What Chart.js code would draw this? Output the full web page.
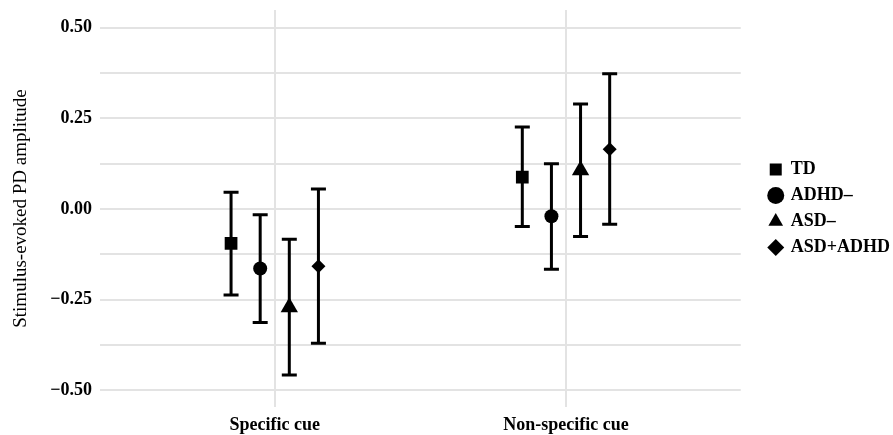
<!DOCTYPE html>
<html>
<head>
<meta charset="utf-8">
<script src="https://cdn.jsdelivr.net/npm/chart.js@4"></script>
<style>
  html, body { margin: 0; padding: 0; background: #fff; }
  #wrap { width: 893px; height: 435px; position: relative; }
</style>
</head>
<body>
<div id="wrap"><canvas id="chart"></canvas></div>
<script>
const categories = ['Specific cue', 'Non-specific cue']
const groups = ['TD', 'ADHD–', 'ASD–', 'ASD+ADHD']
const shapes = ['rect', 'circle', 'triangle', 'rectRot']

// mean and interval ends per group, one value per category
const tdMean = [-0.095, 0.088]
const tdLow = [-0.237, -0.048]
const tdHigh = [0.046, 0.226]

const adhdMean = [-0.164, -0.020]
const adhdLow = [-0.313, -0.166]
const adhdHigh = [-0.016, 0.125]

const asdMean = [-0.271, 0.107]
const asdLow = [-0.458, -0.076]
const asdHigh = [-0.083, 0.290]

const bothMean = [-0.158, 0.165]
const bothLow = [-0.370, -0.042]
const bothHigh = [0.055, 0.373]

const yTicks = [-0.5, -0.25, 0, 0.25, 0.5]
const yMinorTicks = [-0.375, -0.125, 0.125, 0.375]

const means = [tdMean, adhdMean, asdMean, bothMean]
const lows = [tdLow, adhdLow, asdLow, bothLow]
const highs = [tdHigh, adhdHigh, asdHigh, bothHigh]
const radii = [9, 7, 10, 7]

const dodge = 0.1
const serif = "'Liberation Serif', 'Times New Roman', serif"

function xFor (groupIndex, catIndex) {
  return catIndex + 1 + (groupIndex - (groups.length - 1) / 2) * dodge
}

const datasets = groups.map((g, gi) => ({
  label: g,
  data: means[gi].map((m, ci) => ({ x: xFor(gi, ci), y: m, low: lows[gi][ci], high: highs[gi][ci] })),
  pointStyle: shapes[gi],
  pointRadius: radii[gi],
  backgroundColor: '#000',
  borderColor: '#000',
  borderWidth: 0
}))

const errorBars = {
  id: 'errorBars',
  beforeDatasetsDraw (chart) {
    const { ctx, scales: { x, y } } = chart
    ctx.save()
    ctx.strokeStyle = '#000'
    ctx.lineWidth = 3
    ctx.lineCap = 'butt'
    chart.data.datasets.forEach((ds) => {
      ds.data.forEach((p) => {
        const px = x.getPixelForValue(p.x)
        const top = y.getPixelForValue(p.high)
        const bottom = y.getPixelForValue(p.low)
        ctx.beginPath()
        ctx.moveTo(px, top)
        ctx.lineTo(px, bottom)
        ctx.moveTo(px - 7.5, top)
        ctx.lineTo(px + 7.5, top)
        ctx.moveTo(px - 7.5, bottom)
        ctx.lineTo(px + 7.5, bottom)
        ctx.stroke()
      })
    })
    ctx.restore()
  }
}

new Chart(document.getElementById('chart'), {
  type: 'scatter',
  data: { datasets },
  plugins: [errorBars],
  options: {
    responsive: true,
    maintainAspectRatio: false,
    animation: false,
    layout: { padding: { top: 7, left: 0, right: -7, bottom: 0 } },
    scales: {
      x: {
        type: 'linear',
        min: 0.4,
        max: 2.6,
        afterBuildTicks (scale) {
          scale.ticks = categories.map((c, i) => ({ value: i + 1 }))
        },
        afterFit (scale) {
          scale.height = 28
          scale.paddingLeft = 0
          scale.paddingRight = 0
        },
        ticks: {
          autoSkip: false,
          maxRotation: 0,
          padding: 8,
          color: '#000',
          font: { family: serif, size: 18, weight: 'bold' },
          callback: (v) => categories[Math.round(v) - 1]
        },
        grid: { color: '#e3e3e3', lineWidth: 2, drawTicks: false },
        border: { display: false }
      },
      y: {
        min: -0.546,
        max: 0.549,
        afterBuildTicks (scale) {
          scale.ticks = yTicks.concat(yMinorTicks).sort((a, b) => a - b).map((v) => ({ value: v }))
        },
        afterFit (scale) {
          scale.width = 100
          scale.paddingTop = 0
          scale.paddingBottom = 0
        },
        ticks: {
          padding: 8,
          color: '#000',
          font: { family: serif, size: 18, weight: 'bold' },
          callback: (v) => yTicks.includes(v) ? v.toFixed(2).replace('-', '−') : ''
        },
        grid: { color: '#e3e3e3', lineWidth: 2, drawTicks: false },
        border: { display: false },
        title: {
          display: true,
          text: 'Stimulus-evoked PD amplitude',
          color: '#000',
          font: { family: serif, size: 19 },
          padding: { top: 10, bottom: 0 }
        }
      },
      gap: {
        type: 'linear',
        position: 'right',
        display: true,
        afterFit (scale) {
          scale.width = 21
          scale.paddingTop = 0
          scale.paddingBottom = 0
        },
        ticks: { display: false },
        grid: { display: false },
        border: { display: false }
      }
    },
    plugins: {
      legend: {
        position: 'right',
        fullSize: false,
        labels: {
          usePointStyle: true,
          boxWidth: 12,
          boxHeight: 12,
          padding: 8,
          color: '#000',
          font: { family: serif, size: 18, weight: 'bold' }
        }
      },
      tooltip: { enabled: false }
    }
  }
})
</script>
</body>
</html>
